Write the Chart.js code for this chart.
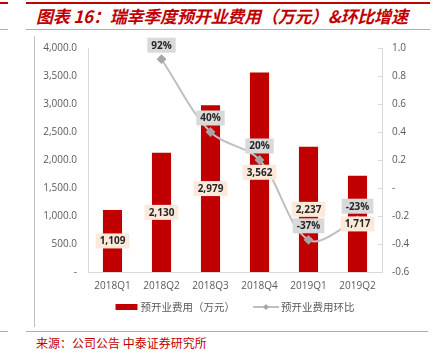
<!DOCTYPE html>
<html><head><meta charset="utf-8">
<script src="https://cdn.jsdelivr.net/npm/chart.js@4/dist/chart.umd.min.js"></script>
<style>
body{margin:0;width:446px;height:356px;background:#fff;position:relative;overflow:hidden;font-family:"Noto Sans CJK SC",sans-serif}
.ln{position:absolute}
#title{position:absolute;left:36px;top:3px;font-size:17px;font-weight:bold;font-style:italic;color:#c00000;white-space:nowrap;letter-spacing:-0.2px}
#src{position:absolute;left:36px;top:334px;font-size:12px;color:#c00000;white-space:nowrap}
#c{position:absolute;left:0;top:0}
</style></head><body>
<div class="ln" style="left:0;top:2px;width:8px;height:2px;background:#c00000"></div>
<div class="ln" style="left:26px;top:2px;width:404px;height:2px;background:#c00000"></div>
<div class="ln" style="left:0;top:29px;width:8px;height:1px;background:#e39a9a"></div>
<div class="ln" style="left:26px;top:29px;width:404px;height:1px;background:#e39a9a"></div>
<div class="ln" style="left:34px;top:36px;width:1px;height:291px;background:#bfbfbf"></div>
<div class="ln" style="left:0;top:331px;width:8px;height:1px;background:#e39a9a"></div>
<div class="ln" style="left:26px;top:331px;width:402px;height:1px;background:#e39a9a"></div>
<div id="title">图表 16：瑞幸季度预开业费用（万元）&amp;环比增速</div>
<div id="src">来源：公司公告 中泰证券研究所</div>
<canvas id="c" width="446" height="356"></canvas>
<script>
const categories = ['2018Q1','2018Q2','2018Q3','2018Q4','2019Q1','2019Q2'];
const expenseValues = [1109, 2130, 2979, 3562, 2237, 1717];
const qoqValues = [null, 0.92, 0.40, 0.20, -0.37, -0.23];
const barLabel = '预开业费用（万元）';
const lineLabel = '预开业费用环比';

const BAR_COLOR = '#c00000';
const LINE_COLOR = '#bfbfbf';
const MARK_COLOR = '#a6a6a6';
const TXT = '#595959';
const tickFont = {family: '"Open Sans","Liberation Sans",sans-serif', size: 10};

const labelPlugin = {
  id: 'vlabels',
  afterDatasetsDraw(chart){
    const ctx = chart.ctx;
    ctx.save();
    ctx.font = 'bold 10px "Open Sans","Liberation Sans",sans-serif';
    ctx.textAlign = 'center'; ctx.textBaseline = 'middle';
    const drawBox = (txt, cx, cy, bg) => {
      const w = ctx.measureText(txt).width + 8, h = 15;
      ctx.fillStyle = bg; ctx.fillRect(cx - w/2, cy - h/2, w, h);
      ctx.fillStyle = '#262626'; ctx.fillText(txt, cx, cy + 0.5);
    };
    chart.getDatasetMeta(0).data.forEach((el, i) => {
      const v = expenseValues[i];
      drawBox(v.toLocaleString('en-US'), el.x, (el.y + el.base)/2, '#fde9d9');
    });
    chart.getDatasetMeta(1).data.forEach((el, i) => {
      const v = qoqValues[i];
      if (v === null) return;
      drawBox(Math.round(v*100) + '%', el.x, el.y - 14, '#d9d9d9');
    });
    const y1 = chart.scales.y1;
    ctx.strokeStyle = '#d9d9d9'; ctx.lineWidth = 1;
    y1.ticks.forEach((t, i) => {
      const yy = Math.round(y1.getPixelForTick(i)) + 0.5;
      ctx.beginPath(); ctx.moveTo(y1.left - 4, yy); ctx.lineTo(y1.left, yy); ctx.stroke();
    });
    ctx.restore();
  },
  afterDraw(chart){
    // legend
    const ctx = chart.ctx;
    ctx.save();
    ctx.font = '10.5px "Noto Sans CJK SC",sans-serif';
    ctx.textBaseline = 'middle'; ctx.textAlign = 'left';
    const ds = chart.data.datasets;
    const cy = chart.chartArea.bottom + 35;
    const tw1 = ctx.measureText(ds[0].label).width;
    const tw2 = ctx.measureText(ds[1].label).width;
    const total = 22 + 3 + tw1 + 18 + 26 + 2 + tw2;
    let x = (chart.chartArea.left + chart.chartArea.right) / 2 - total / 2;
    ctx.fillStyle = BAR_COLOR; ctx.fillRect(x, cy - 3, 22, 6);
    x += 25;
    ctx.fillStyle = TXT; ctx.fillText(ds[0].label, x, cy);
    x += tw1 + 18;
    ctx.strokeStyle = LINE_COLOR; ctx.lineWidth = 2;
    ctx.beginPath(); ctx.moveTo(x, cy); ctx.lineTo(x + 26, cy); ctx.stroke();
    ctx.fillStyle = MARK_COLOR;
    ctx.beginPath(); ctx.moveTo(x+13, cy-3); ctx.lineTo(x+16, cy); ctx.lineTo(x+13, cy+3); ctx.lineTo(x+10, cy); ctx.closePath(); ctx.fill();
    x += 28;
    ctx.fillStyle = TXT; ctx.fillText(ds[1].label, x, cy);
    ctx.restore();
  }
};

new Chart(document.getElementById('c'), {
  data: {
    labels: categories,
    datasets: [
      {type: 'bar', label: barLabel, data: expenseValues, backgroundColor: BAR_COLOR, yAxisID: 'y',
       categoryPercentage: 1, barPercentage: 0.39, order: 2},
      {type: 'line', label: lineLabel, data: qoqValues, yAxisID: 'y1', borderColor: LINE_COLOR, borderWidth: 2,
       tension: 0.35, pointStyle: 'rectRot', pointRadius: 3.5, pointBackgroundColor: MARK_COLOR, pointBorderColor: MARK_COLOR,
       spanGaps: true, order: 1}
    ]
  },
  options: {
    responsive: false, animation: false,
    layout: {padding: {top: 48, left: 0, right: 0, bottom: 56}},
    plugins: {
      tooltip: {enabled: false},
      legend: {display: false}
    },
    scales: {
      x: {
        grid: {display: false, drawTicks: false}, border: {color: '#d9d9d9'},
        ticks: {color: TXT, font: tickFont, padding: 8, maxRotation: 0}
      },
      y: {
        position: 'left', min: 0, max: 4000,
        grid: {display: false, drawTicks: false}, border: {color: '#d9d9d9'},
        ticks: {stepSize: 500, color: TXT, font: tickFont, padding: 11,
          callback: v => v === 0 ? '-' : v.toLocaleString('en-US', {minimumFractionDigits: 1, maximumFractionDigits: 1})},
        afterFit: s => { s.width = 88; }
      },
      y1: {
        position: 'right', min: -0.6, max: 1.0,
        grid: {display: false, drawTicks: false}, border: {color: '#d9d9d9'},
        ticks: {stepSize: 0.2, color: TXT, font: tickFont, padding: 10,
          callback: v => Math.abs(v) < 1e-9 ? '-' : v.toFixed(1)},
        afterFit: s => { s.width = 64; }
      }
    }
  },
  plugins: [labelPlugin]
});
</script>
</body></html>
